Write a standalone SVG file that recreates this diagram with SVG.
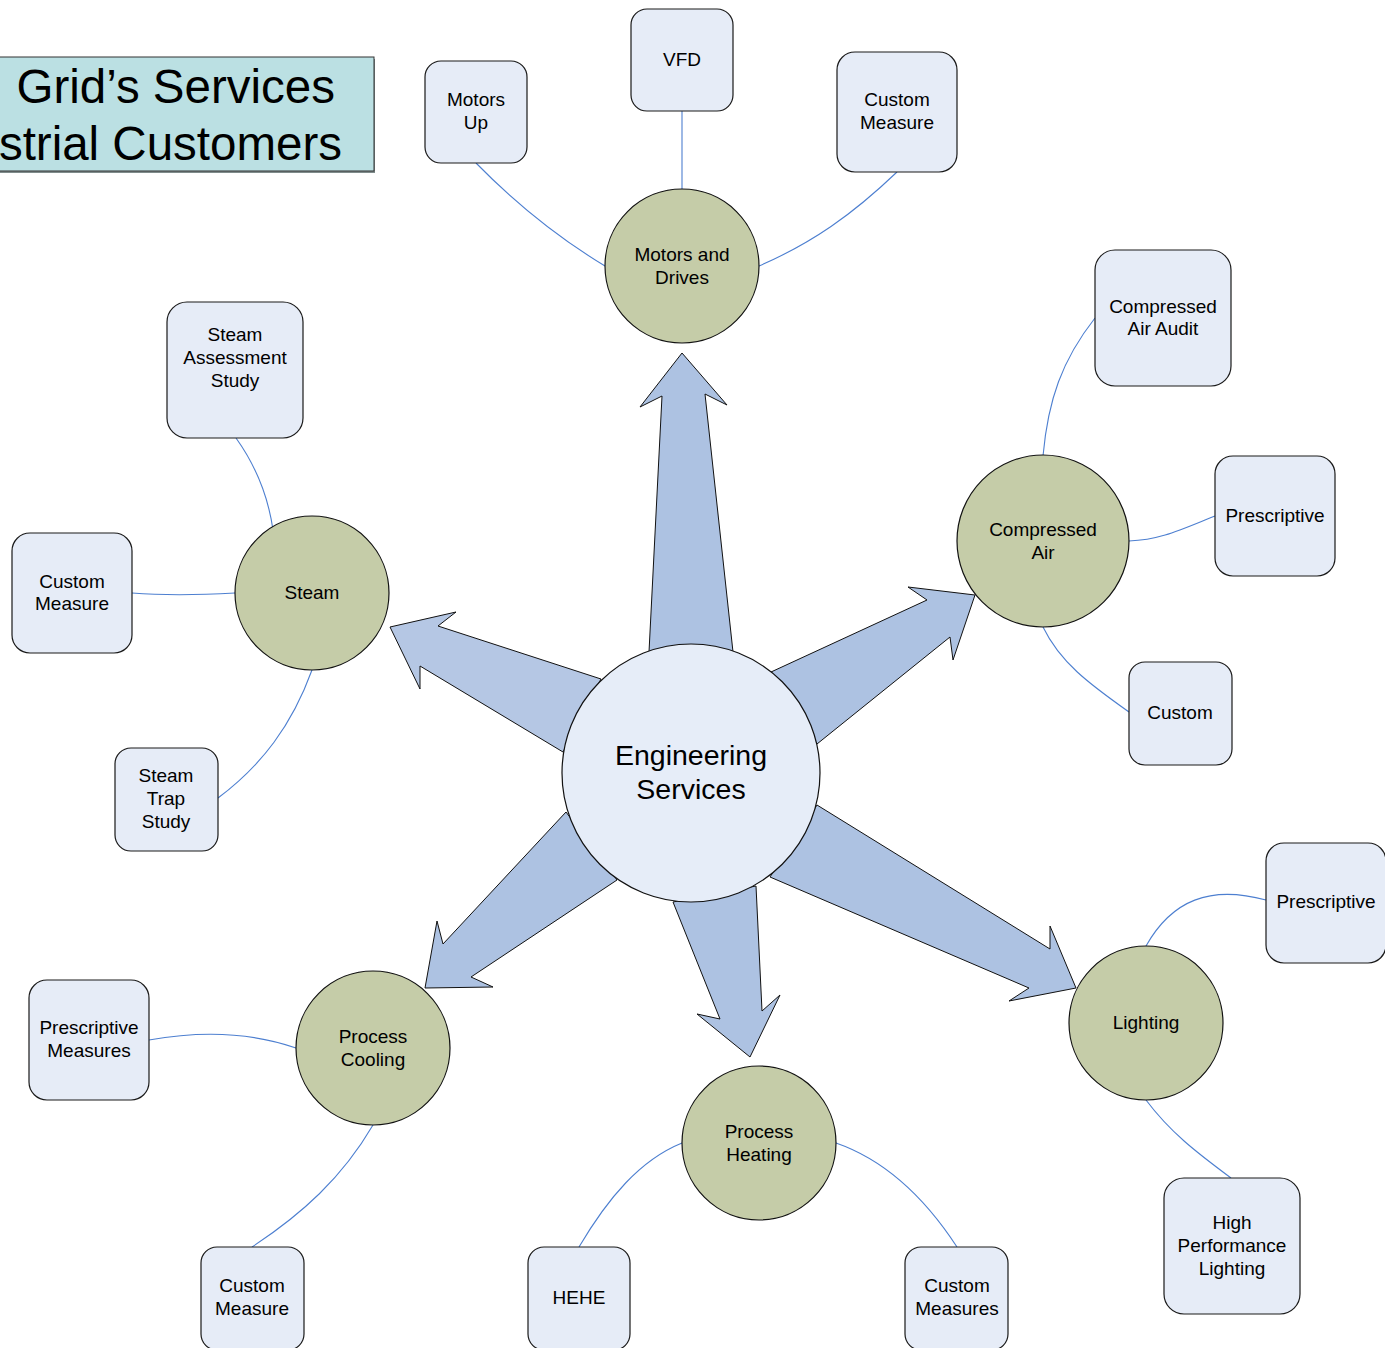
<svg xmlns="http://www.w3.org/2000/svg" width="1385" height="1348" viewBox="0 0 1385 1348">
<style>
.t{font-family:"Liberation Sans",Arial,sans-serif;font-size:19px;fill:#000;text-anchor:middle}
.box{fill:#E6ECF7;stroke:#1a1a1a;stroke-width:1.2}
.hub{fill:#C5CCA8;stroke:#111;stroke-width:1.2}
.arr{fill:#ADC2E2;stroke:#111;stroke-width:1}
.con{fill:none;stroke:#4D7FD0;stroke-width:1.1}
</style>
<rect width="1385" height="1348" fill="#fff"/>
<g id="title">
<rect x="-2" y="59" width="377" height="114" fill="#7f8c8c"/>
<rect x="-2" y="57" width="376" height="114" fill="#BBE0E3" stroke="#333" stroke-width="1"/>
<text x="335" y="103" font-family="Liberation Sans, Arial, sans-serif" font-size="47.5" text-anchor="end">Grid’s Services</text>
<text x="342" y="160" font-family="Liberation Sans, Arial, sans-serif" font-size="47.5" text-anchor="end">strial Customers</text>
</g>
<g id="connectors">
<path class="con" d="M476,163 C520,208 562,240 605,266"/>
<path class="con" d="M682,111 L682,189"/>
<path class="con" d="M897,172 C852,215 812,243 759,266"/>
<path class="con" d="M1095,318 C1062,360 1048,400 1043,456"/>
<path class="con" d="M1215,516 C1180,530 1160,540 1129,541"/>
<path class="con" d="M1129,712 C1088,683 1060,662 1043,627"/>
<path class="con" d="M236,438 C256,466 268,495 273,530"/>
<path class="con" d="M132,593 C170,596 200,595 235,593"/>
<path class="con" d="M218,798 C262,765 292,725 312,670"/>
<path class="con" d="M149,1040 C200,1031 250,1032 296,1048"/>
<path class="con" d="M252,1247 C302,1214 342,1178 373,1125"/>
<path class="con" d="M579,1247 C608,1198 640,1160 682,1143"/>
<path class="con" d="M957,1247 C925,1198 885,1160 836,1143"/>
<path class="con" d="M1266,900 C1210,885 1172,900 1146,946"/>
<path class="con" d="M1231,1178 C1196,1152 1170,1132 1146,1100"/>
</g>
<g id="arrows">
<polygon class="arr" points="649,652 662,396 640,407 682,353 727,405 705,394 733,652"/>
<polygon class="arr" style="fill:#B5C7E4" points="601,679 438,626 456,612 390,627 420,689 420,666 563,752"/>
<polygon class="arr" points="771,672 927,600 908,587 975,595 953,660 950,637 817,744"/>
<polygon class="arr" points="566,812 443,944 437,921 425,988 493,987 471,977 617,880"/>
<polygon class="arr" points="673,902 720,1019 697,1014 750,1057 780,995 762,1011 756,886"/>
<polygon class="arr" points="817,805 1050,949 1050,926 1076,988 1009,1001 1029,988 770,877"/>
</g>
<g id="center">
<circle cx="691" cy="773" r="129" fill="#E6EDF8" stroke="#111" stroke-width="1.2"/>
<text class="t" x="691" y="765" style="font-size:28.5px">Engineering</text>
<text class="t" x="691" y="799" style="font-size:28.5px">Services</text>
</g>
<g id="motors-drives"><circle class="hub" cx="682" cy="266" r="77"/><text class="t" x="682" y="261">Motors and</text><text class="t" x="682" y="284">Drives</text></g>
<g id="compressed-air"><circle class="hub" cx="1043" cy="541" r="86"/><text class="t" x="1043" y="536">Compressed</text><text class="t" x="1043" y="559">Air</text></g>
<g id="steam"><circle class="hub" cx="312" cy="593" r="77"/><text class="t" x="312" y="599">Steam</text></g>
<g id="process-cooling"><circle class="hub" cx="373" cy="1048" r="77"/><text class="t" x="373" y="1043">Process</text><text class="t" x="373" y="1066">Cooling</text></g>
<g id="process-heating"><circle class="hub" cx="759" cy="1143" r="77"/><text class="t" x="759" y="1138">Process</text><text class="t" x="759" y="1161">Heating</text></g>
<g id="lighting"><circle class="hub" cx="1146" cy="1023" r="77"/><text class="t" x="1146" y="1029">Lighting</text></g>
<g id="motors-up"><rect class="box" x="425" y="61" width="102" height="102" rx="16"/><text class="t" x="476" y="106">Motors</text><text class="t" x="476" y="129">Up</text></g>
<g id="vfd"><rect class="box" x="631" y="9" width="102" height="102" rx="16"/><text class="t" x="682" y="66">VFD</text></g>
<g id="custom-measure-top"><rect class="box" x="837" y="52" width="120" height="120" rx="18"/><text class="t" x="897" y="106">Custom</text><text class="t" x="897" y="129">Measure</text></g>
<g id="compressed-air-audit"><rect class="box" x="1095" y="250" width="136" height="136" rx="20"/><text class="t" x="1163" y="313">Compressed</text><text class="t" x="1163" y="335">Air Audit</text></g>
<g id="prescriptive-ca"><rect class="box" x="1215" y="456" width="120" height="120" rx="18"/><text class="t" x="1275" y="522">Prescriptive</text></g>
<g id="custom-ca"><rect class="box" x="1129" y="662" width="103" height="103" rx="16"/><text class="t" x="1180" y="719">Custom</text></g>
<g id="steam-assessment"><rect class="box" x="167" y="302" width="136" height="136" rx="20"/><text class="t" x="235" y="341">Steam</text><text class="t" x="235" y="364">Assessment</text><text class="t" x="235" y="387">Study</text></g>
<g id="custom-measure-left"><rect class="box" x="12" y="533" width="120" height="120" rx="18"/><text class="t" x="72" y="588">Custom</text><text class="t" x="72" y="610">Measure</text></g>
<g id="steam-trap"><rect class="box" x="115" y="748" width="103" height="103" rx="16"/><text class="t" x="166" y="782">Steam</text><text class="t" x="166" y="805">Trap</text><text class="t" x="166" y="828">Study</text></g>
<g id="prescriptive-lighting"><rect class="box" x="1266" y="843" width="120" height="120" rx="18"/><text class="t" x="1326" y="908">Prescriptive</text></g>
<g id="high-performance"><rect class="box" x="1164" y="1178" width="136" height="136" rx="20"/><text class="t" x="1232" y="1229">High</text><text class="t" x="1232" y="1252">Performance</text><text class="t" x="1232" y="1275">Lighting</text></g>
<g id="prescriptive-measures"><rect class="box" x="29" y="980" width="120" height="120" rx="18"/><text class="t" x="89" y="1034">Prescriptive</text><text class="t" x="89" y="1057">Measures</text></g>
<g id="custom-measure-bl"><rect class="box" x="201" y="1247" width="103" height="103" rx="16"/><text class="t" x="252" y="1292">Custom</text><text class="t" x="252" y="1315">Measure</text></g>
<g id="hehe"><rect class="box" x="528" y="1247" width="102" height="103" rx="16"/><text class="t" x="579" y="1304">HEHE</text></g>
<g id="custom-measures"><rect class="box" x="905" y="1247" width="103" height="103" rx="16"/><text class="t" x="957" y="1292">Custom</text><text class="t" x="957" y="1315">Measures</text></g>
</svg>
